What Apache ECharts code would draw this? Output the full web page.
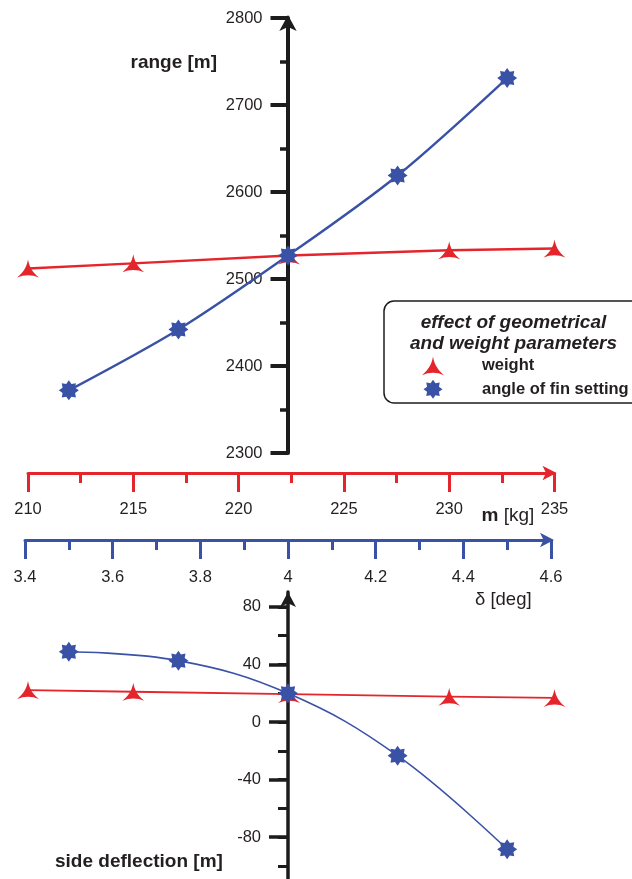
<!DOCTYPE html>
<html><head><meta charset="utf-8">
<script src="https://cdn.jsdelivr.net/npm/echarts@6/dist/echarts.min.js"></script>
<style>html,body{margin:0;padding:0;background:#fff}#c{width:632px;height:879px}</style>
</head><body><div id="c"></div>
<script>
// ---- data ----
const massKg        = [210, 215, 222.4, 230, 235];
const finAngleDeg   = [3.5, 3.75, 4.0, 4.25, 4.5];
const rangeWeight   = [2512, 2518, 2527, 2533, 2535];
const rangeFin      = [2372, 2442, 2527, 2619, 2731];
const sideWeight    = [22.2, 21.0, 19.4, 17.6, 16.7];
const sideFin       = [48.8, 42.6, 19.9, -23.4, -88.4];
const massTicks     = {min: 210, max: 235, step: 5};
const angleTicks    = {min: 3.4, max: 4.6, step: 0.2};
const rangeTicks    = {min: 2300, max: 2800, step: 100};
const sideTicks     = {min: -80, max: 80, step: 40};
const sideMinor     = {min: -100, max: 80, step: 20};
const seriesNames   = ['weight', 'angle of fin setting'];
const legendTitle   = ['effect of geometrical', 'and weight parameters'];

const RED = '#e4262c', BLUE = '#3a52a6', BLACK = '#1c1c1c', TXT = '#231f20';
const FONT = '"Liberation Sans", Arial, Helvetica, sans-serif';

const redPath = 'path://M0,-10 C-1,-4 -3,1 -10,7 Q0,2.5 10,7 C3,1 1,-4 0,-10 Z';
function starPath(n, R, r) {
  let d = '';
  for (let i = 0; i < 2 * n; i++) {
    const a = Math.PI * i / n - Math.PI / 2;
    const rad = i % 2 ? r : R;
    d += (i ? 'L' : 'M') + (rad * Math.cos(a)).toFixed(2) + ',' + (rad * Math.sin(a)).toFixed(2);
  }
  return 'path://' + d + 'Z';
}
const bluePath = starPath(8, 10, 6.8);

const zip = (a, b) => a.map((v, i) => [v, b[i]]);
const hidden = (extra) => Object.assign({type: 'value', show: false, splitLine: {show: false}, axisLine: {onZero: false}}, extra);

// vertical geometry of the lower panel: 80 at 606.8px, 1.44 px per metre
const lowTop = 606.8, pxPerM = 1.44;
const lowH = (sideMinor.max - sideMinor.min) * pxPerM;
const lowMajorH = (sideTicks.max - sideTicks.min) * pxPerM;

const chart = echarts.init(document.getElementById('c'), null, {renderer: 'canvas'});
chart.setOption({
  animation: false,
  backgroundColor: '#fff',
  grid: [
    {left: 28, width: 526.5, top: 18, height: 435},       // 0 top, mass
    {left: 25, width: 526, top: 18, height: 435},         // 1 top, angle
    {left: 28, width: 526.5, top: lowTop, height: lowH},  // 2 bottom, mass
    {left: 25, width: 526, top: lowTop, height: lowH},    // 3 bottom, angle
    {left: 288, width: 10, top: 18, height: 435},         // 4 visible range axis
    {left: 288, width: 10, top: lowTop, height: lowMajorH}, // 5 side axis major ticks + labels
    {left: 288, width: 10, top: 592, height: 287},        // 6 side axis line + arrow
    {left: 288, width: 10, top: lowTop, height: lowH}     // 7 side axis minor ticks
  ],
  xAxis: [
    {
      type: 'value', gridIndex: 0, position: 'bottom', offset: 20,
      min: massTicks.min, max: massTicks.max, interval: massTicks.step,
      axisLine: {onZero: false, lineStyle: {color: RED, width: 3}, symbol: ['none', 'arrow'], symbolSize: [11, 14], symbolOffset: [0, 2]},
      axisTick: {length: 19, lineStyle: {color: RED, width: 3}},
      minorTick: {show: true, splitNumber: 2, length: 10, lineStyle: {color: RED, width: 3}},
      axisLabel: {margin: 28, color: TXT, fontSize: 16.5, fontFamily: FONT},
      splitLine: {show: false}, minorSplitLine: {show: false}
    },
    {
      type: 'value', gridIndex: 1, position: 'bottom', offset: 87,
      min: angleTicks.min, max: angleTicks.max, interval: angleTicks.step,
      axisLine: {onZero: false, lineStyle: {color: BLUE, width: 3}, symbol: ['none', 'arrow'], symbolSize: [11, 14], symbolOffset: [0, 3]},
      axisTick: {length: 19, lineStyle: {color: BLUE, width: 3}},
      minorTick: {show: true, splitNumber: 2, length: 10, lineStyle: {color: BLUE, width: 3}},
      axisLabel: {margin: 28.5, color: TXT, fontSize: 16.5, fontFamily: FONT},
      splitLine: {show: false}, minorSplitLine: {show: false}
    },
    hidden({gridIndex: 2, min: massTicks.min, max: massTicks.max}),
    hidden({gridIndex: 3, min: angleTicks.min, max: angleTicks.max}),
    hidden({gridIndex: 4, min: 0, max: 1}),
    hidden({gridIndex: 5, min: 0, max: 1}),
    hidden({gridIndex: 6, min: 0, max: 1}),
    hidden({gridIndex: 7, min: 0, max: 1})
  ],
  yAxis: [
    hidden({gridIndex: 0, min: rangeTicks.min, max: rangeTicks.max}),
    hidden({gridIndex: 1, min: rangeTicks.min, max: rangeTicks.max}),
    hidden({gridIndex: 2, min: sideMinor.min, max: sideMinor.max}),
    hidden({gridIndex: 3, min: sideMinor.min, max: sideMinor.max}),
    {
      type: 'value', gridIndex: 4, position: 'left',
      min: rangeTicks.min, max: rangeTicks.max, interval: rangeTicks.step,
      axisLine: {onZero: false, lineStyle: {color: BLACK, width: 4}, symbol: ['none', 'arrow'], symbolSize: [13, 16], symbolOffset: [0, 3]},
      axisTick: {length: 17.5, lineStyle: {color: BLACK, width: 4}},
      minorTick: {show: true, splitNumber: 2, length: 8, lineStyle: {color: BLACK, width: 3.5}},
      axisLabel: {margin: 25.5, color: TXT, fontSize: 16.5, fontFamily: FONT, formatter: v => String(Math.round(v))},
      splitLine: {show: false}, minorSplitLine: {show: false}
    },
    {
      type: 'value', gridIndex: 5, position: 'left',
      min: sideTicks.min, max: sideTicks.max, interval: sideTicks.step,
      axisLine: {show: false, onZero: false},
      axisTick: {show: true, length: 19, lineStyle: {color: BLACK, width: 3.5}},
      axisLabel: {margin: 27, color: TXT, fontSize: 16.5, fontFamily: FONT},
      splitLine: {show: false}
    },
    {
      type: 'value', gridIndex: 6, position: 'left', min: 0, max: 1,
      axisLine: {show: true, onZero: false, lineStyle: {color: BLACK, width: 3.5}, symbol: ['none', 'arrow'], symbolSize: [12, 15]},
      axisTick: {show: false}, axisLabel: {show: false}, splitLine: {show: false}
    },
    {
      type: 'value', gridIndex: 7, position: 'left',
      min: sideMinor.min, max: sideMinor.max, interval: sideMinor.step,
      axisLine: {show: false, onZero: false},
      axisTick: {show: true, length: 10, lineStyle: {color: BLACK, width: 3}},
      axisLabel: {show: false}, splitLine: {show: false}
    }
  ],
  legend: {
    orient: 'vertical', left: 422, top: 356.5, padding: 0,
    itemWidth: 22, itemHeight: 19, itemGap: 4.5, selectedMode: false, z: 10,
    data: [{name: seriesNames[0], icon: redPath}, {name: seriesNames[1], icon: bluePath}],
    textStyle: {fontFamily: FONT, fontWeight: 'bold', fontSize: 16.5, color: TXT, padding: [0, 0, 0, 33]}
  },
  graphic: [
    {type: 'rect', z: 1, shape: {x: 384, y: 301, width: 320, height: 102, r: 10},
     style: {fill: '#fff', stroke: BLACK, lineWidth: 1.5}},
    {type: 'text', z: 2, x: 513.5, y: 323, style: {text: legendTitle[0], fontFamily: FONT, fontWeight: 'bold', fontStyle: 'italic', fontSize: 19, fill: TXT, align: 'center', verticalAlign: 'middle'}},
    {type: 'text', z: 2, x: 513.5, y: 344, style: {text: legendTitle[1], fontFamily: FONT, fontWeight: 'bold', fontStyle: 'italic', fontSize: 19, fill: TXT, align: 'center', verticalAlign: 'middle'}},
    {type: 'text', x: 130.5, y: 63, style: {text: 'range [m]', fontFamily: FONT, fontWeight: 'bold', fontSize: 19, fill: TXT, align: 'left', verticalAlign: 'middle'}},
    {type: 'text', x: 55, y: 862, style: {text: 'side deflection [m]', fontFamily: FONT, fontWeight: 'bold', fontSize: 19, fill: TXT, align: 'left', verticalAlign: 'middle'}},
    {type: 'text', x: 481.5, y: 516, style: {text: '{b|m} [kg]', fontFamily: FONT, fontSize: 19, fill: TXT, align: 'left', verticalAlign: 'middle',
      rich: {b: {fontFamily: FONT, fontWeight: 'bold', fontSize: 19, fill: TXT}}}},
    {type: 'text', x: 475, y: 600, style: {text: 'δ [deg]', fontFamily: FONT, fontSize: 18.5, fill: TXT, align: 'left', verticalAlign: 'middle'}}
  ],
  series: [
    {name: seriesNames[0], type: 'line', xAxisIndex: 0, yAxisIndex: 0, data: zip(massKg, rangeWeight),
     symbol: redPath, symbolSize: [22, 18], color: RED, itemStyle: {color: RED}, lineStyle: {color: RED, width: 2.4}, z: 3},
    {name: seriesNames[1], type: 'line', xAxisIndex: 1, yAxisIndex: 1, data: zip(finAngleDeg, rangeFin), smooth: 0.3,
     symbol: bluePath, symbolSize: 20, color: BLUE, itemStyle: {color: BLUE}, lineStyle: {color: BLUE, width: 2.4}, z: 4},
    {name: seriesNames[0], type: 'line', xAxisIndex: 2, yAxisIndex: 2, data: zip(massKg, sideWeight),
     symbol: redPath, symbolSize: [22, 18], color: RED, itemStyle: {color: RED}, lineStyle: {color: RED, width: 1.8}, z: 3},
    {name: seriesNames[1], type: 'line', xAxisIndex: 3, yAxisIndex: 3, data: zip(finAngleDeg, sideFin), smooth: 0.4,
     symbol: bluePath, symbolSize: 20, color: BLUE, itemStyle: {color: BLUE}, lineStyle: {color: BLUE, width: 1.6}, z: 4}
  ]
});
</script></body></html>
